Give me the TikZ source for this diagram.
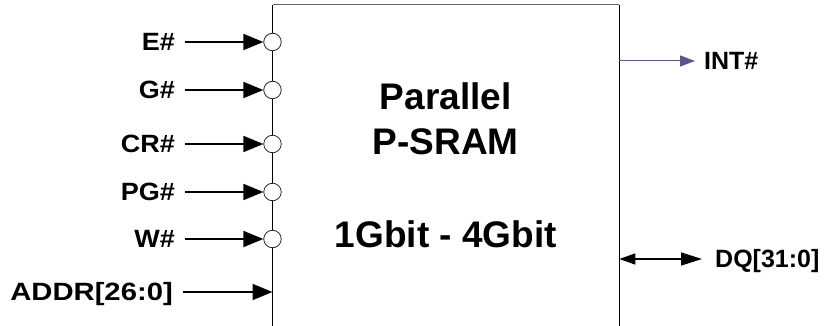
\documentclass[tikz,border=0pt]{standalone}
\usepackage{fontspec}
\setmainfont{Liberation Sans}
\newfontfamily\labelfont{Liberation Sans Bold}[FakeStretch=1.08]
\newfontfamily\widelabelfont{Liberation Sans Bold}[FakeStretch=1.17]
\usetikzlibrary{arrows.meta}
\definecolor{chipgray}{HTML}{666666}
\definecolor{intviolet}{HTML}{56568A}

\begin{document}
\begin{tikzpicture}[
  x=1pt,
  y=-1pt,
  pinlabel/.style={anchor=east, inner sep=0pt, text height=17.5pt, text depth=0pt, font=\fontsize{25}{30}\labelfont},
  portlabel/.style={anchor=west, inner sep=0pt, text height=17.5pt, text depth=0pt, font=\fontsize{25}{30}\selectfont\bfseries},
  chiptext/.style={inner sep=0pt, text height=26.5pt, text depth=0pt, font=\fontsize{37}{45}\selectfont\bfseries},
  bubble/.style={circle, draw=black!85, fill=white, line width=0.8pt, minimum size=17.5pt, inner sep=0pt},
  insignal/.style={-{Triangle[length=20pt, width=16pt]}, line width=1.9pt, shorten <=10pt},
  intsignal/.style={-{Triangle[length=15pt, width=11pt]}, draw=intviolet, fill=intviolet, line width=1pt, shorten >=9pt},
  dqsignal/.style={{Triangle[length=16pt, width=11pt]}-{Triangle[length=21pt, width=13pt]}, line width=1.4pt, shorten >=13pt}
]
\useasboundingbox (0,0) rectangle (828,326);

% chip outline, open at the bottom
\coordinate (chiptl) at (272.5,4.7);
\coordinate (chiptr) at (619.3,4.7);
\coordinate (chipbl) at (272.5,326);
\coordinate (chipbr) at (619.3,326);
\draw[line width=1pt] (chipbl) -- (chiptl);
\draw[line width=1.3pt, draw=chipgray] (chiptl) -- (chiptr);
\draw[line width=1.3pt] (chiptr) -- (chipbr);

\node[chiptext] (chipname) at (445.8,96.3) {Parallel};
\node[chiptext] (chiptype) at (445.8,141.3) {P-SRAM};
\node[chiptext] (chipsize) at (445.8,234) {1Gbit - 4Gbit};

% active-low control inputs
\foreach \name/\txt/\y in {e/E\#/42, g/G\#/90, cr/CR\#/144, pg/PG\#/192, w/W\#/239} {
  \node[bubble] (\name pin) at (272.5,\y) {};
  \node[pinlabel] (\name lab) at (175,\y) {\txt};
  \draw[insignal] (\name lab) -- (\name pin);
}

% address bus
\node[pinlabel, font=\fontsize{25}{30}\widelabelfont] (addrlab) at (173,292) {ADDR[26:0]};
\coordinate (addrpin) at (272.5,292);
\draw[insignal] (addrlab) -- (addrpin);

% outputs
\coordinate (intpin) at (619.3,61);
\node[portlabel] (intlab) at (704,61) {INT\#};
\draw[intsignal] (intpin) -- (intlab);

\coordinate (dqpin) at (619.3,259);
\node[portlabel] (dqlab) at (715,259) {DQ[31:0]};
\draw[dqsignal] (dqpin) -- (dqlab);

\end{tikzpicture}
\end{document}
